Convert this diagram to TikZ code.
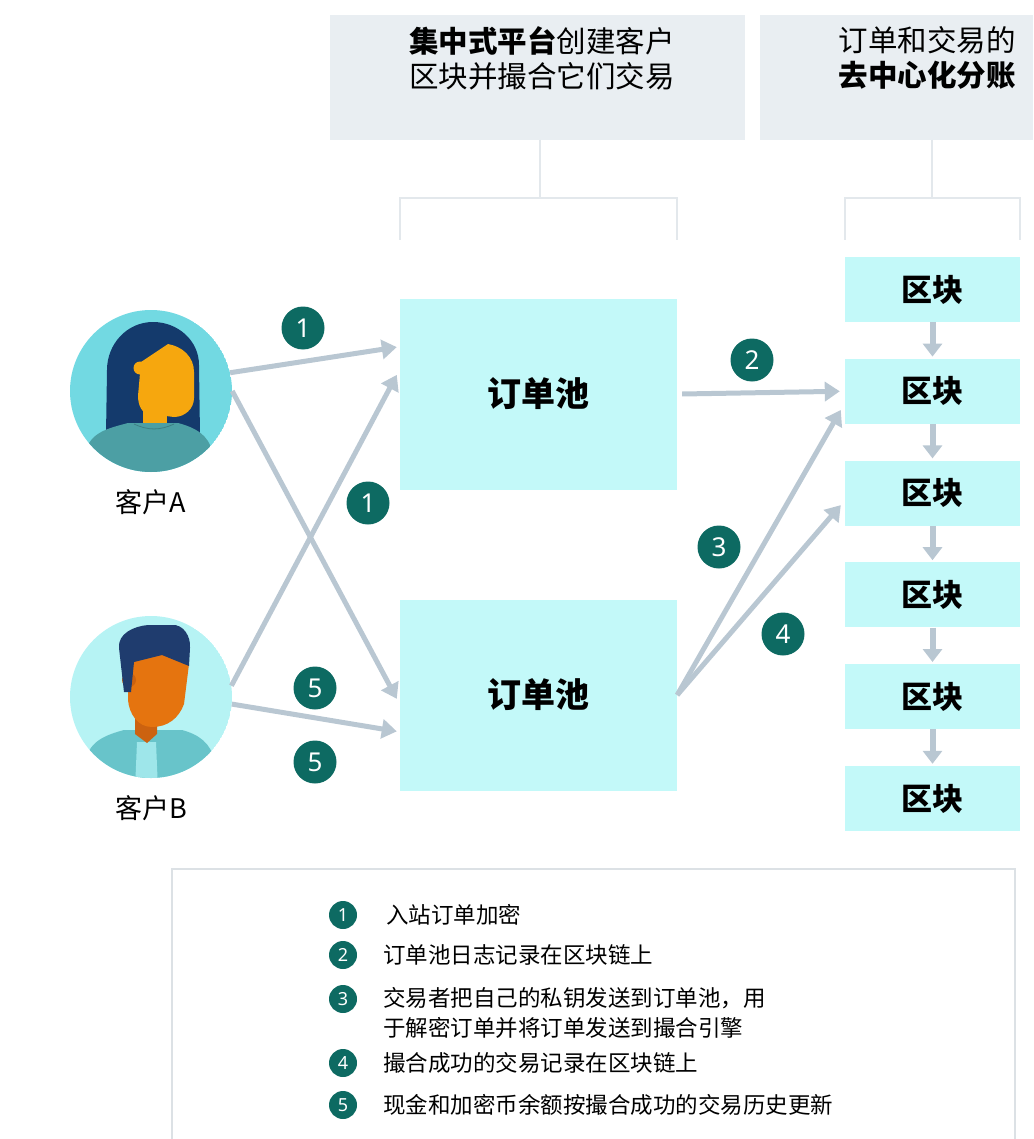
\documentclass[tikz,border=0pt]{standalone}
\usepackage{fontspec}
\setmainfont{Noto Sans CJK SC}
\newfontfamily\numfont{Noto Sans}
\usetikzlibrary{arrows.meta}
\usetikzlibrary{positioning}
\usetikzlibrary{calc}

\definecolor{hdrfill}{HTML}{E9EEF2}
\definecolor{bracketgray}{HTML}{E3E8EC}
\definecolor{poolcyan}{HTML}{C3F9F9}
\definecolor{flowgray}{HTML}{B9C7D2}
\definecolor{stepteal}{HTML}{0D6A62}
\definecolor{legendgray}{HTML}{DCE1E5}
% avatar colours
\definecolor{skyA}{HTML}{72D9E2}
\definecolor{hairA}{HTML}{143A6C}
\definecolor{faceA}{HTML}{F6A70E}
\definecolor{bodyA}{HTML}{4C9FA4}
\definecolor{skyB}{HTML}{B6F3F4}
\definecolor{hairB}{HTML}{1F3C6E}
\definecolor{faceB}{HTML}{E5740F}
\definecolor{neckB}{HTML}{CC6210}
\definecolor{shirtB}{HTML}{68C4CA}
\definecolor{stripB}{HTML}{9EE6EA}

\begin{document}
\begin{tikzpicture}[
    x=1pt, y=1pt,
    hdr/.style={fill=hdrfill, minimum height=125pt, inner sep=0pt},
    bracket/.style={draw=bracketgray, line width=2.5pt},
    pool/.style={fill=poolcyan, minimum width=277pt, minimum height=191pt, inner sep=0pt,
      font=\bfseries\fontsize{34}{34}\selectfont},
    blk/.style={fill=poolcyan, minimum width=175pt, minimum height=65pt, inner sep=0pt,
      font=\bfseries\fontsize{31}{31}\selectfont},
    flow/.style={draw=flowgray, line width=5pt, -{Triangle[length=15pt,width=19pt]}},
    chain/.style={draw=flowgray, line width=6pt, -{Triangle[length=13pt,width=19pt]}},
    stepnum/.style={circle, fill=stepteal, text=white, minimum size=43pt, inner sep=0pt,
      font=\numfont\bfseries\fontsize{26}{26}\selectfont},
    keynum/.style={circle, fill=stepteal, text=white, minimum size=28pt, inner sep=0pt,
      font=\numfont\bfseries\fontsize{18}{18}\selectfont},
    keytext/.style={anchor=west, inner sep=0pt, align=left, font=\fontsize{22.5}{30}\selectfont},
    who/.style={font=\fontsize{27}{27}\selectfont}
  ]
\useasboundingbox (0,0) rectangle (1033,-1139);

% headers and brackets
\node[hdr, minimum width=415pt] (hdrL) at (537.5,-77.5) {};
\node[hdr, minimum width=273pt, anchor=west] (hdrR) at (760,-77.5) {};
\node[align=center, font=\fontsize{29.5}{35}\selectfont] (hdrLtxt) at (542,-58)
  {\textbf{集中式平台}创建客户\\区块并撮合它们交易};
\node[align=center, font=\fontsize{29.5}{35}\selectfont] (hdrRtxt) at (927,-58)
  {订单和交易的\\\textbf{去中心化分账}};

\coordinate (bL) at (540,-198); \coordinate (bR) at (932,-198);
\draw[bracket] (540,-140) -- (bL);
\draw[bracket] (400,-240) -- (400,-198) -- (677,-198) -- (677,-240);
\draw[bracket] (932,-140) -- (bR);
\draw[bracket] (845,-240) -- (845,-198) -- (1020,-198) -- (1020,-240);

% order pools and the chain of blocks
\node[pool] (poolTop) at (538.5,-394) {订单池};
\node[pool] (poolBot) at (538.5,-695) {订单池};
\foreach \i in {1,...,6}
  \node[blk] (blk\i) at (932.5,{-289.5-101.8*(\i-1)}) {区块};
\foreach \i [count=\j from 2] in {1,...,5}
  \draw[chain] (blk\i.south) -- ([yshift=2pt]blk\j.north);

% client A
\node[circle, minimum size=162pt, inner sep=0pt] (clientA) at (151,-391) {};
\begin{scope}
  \clip (clientA.center) circle (81);
  \fill[skyA] (clientA.center) circle (81);
  \fill[hairA] (106,-435) -- (107,-370) to[out=90,in=180] (153,-322) to[out=0,in=90] (199,-365) -- (200,-435) -- cycle;
  \fill[faceA] (141,-362) -- (168,-344) to[out=-10,in=90] (194,-372) -- (194,-398) to[out=-90,in=0] (174,-417) -- (150,-414) to[out=180,in=-90] (138,-396) -- cycle;
  \fill[faceA] (140,-368) circle (6.5);
  \fill[faceA] (143,-425) rectangle (167,-405);
  \fill[bodyA] (82,-480) -- (86,-452) to[out=80,in=195] (128,-423) -- (178,-423) to[out=-15,in=100] (212,-452) -- (216,-480) -- cycle;
  \draw[bodyA!80!black, line width=0.8pt] (134,-424) to[out=-25,in=205] (174,-424);
\end{scope}
\node[who, below=14pt of clientA] (nameA) {客户A};

% client B
\node[circle, minimum size=162pt, inner sep=0pt] (clientB) at (151,-697) {};
\begin{scope}
  \clip (clientB.center) circle (81);
  \fill[skyB] (clientB.center) circle (81);
  \fill[shirtB] (82,-790) -- (86,-760) to[out=80,in=195] (124,-730) -- (182,-730) to[out=-15,in=100] (214,-760) -- (218,-790) -- cycle;
  \fill[stripB] (137,-742) -- (156,-742) -- (158,-790) -- (135,-790) -- cycle;
  \fill[neckB] (135,-712) -- (157,-712) -- (157,-734) -- (147,-743) -- (135,-734) -- cycle;
  \fill[faceB] (128,-664) -- (128,-700) to[out=-85,in=180] (152,-727) to[out=0,in=-110] (184,-704) -- (189,-664) to[out=90,in=0] (160,-650) -- cycle;
  \fill[neckB] (129,-680) circle (7);
  \fill[hairB] (124,-692) -- (119,-648) to[out=95,in=185] (148,-625) -- (172,-625) to[out=5,in=85] (190,-648) -- (189,-666) -- (162,-655) -- (134,-662) -- (131,-692) -- cycle;
\end{scope}
\node[who, below=14pt of clientB] (nameB) {客户B};

% order flow
\draw[flow] (clientA.13) -- ($(poolTop.north west)!0.255!(poolTop.south west)+(-3,0)$);
\draw[flow] (clientA.0) -- ($(poolBot.north west)!0.52!(poolBot.south west)+(-3,0)$);
\draw[flow] (clientB.8) -- ($(poolTop.north west)!0.40!(poolTop.south west)+(-3,0)$);
\draw[flow] (clientB.-5) -- ($(poolBot.north west)!0.69!(poolBot.south west)+(-3,0)$);
\draw[flow] ([xshift=5pt]poolTop.east) -- ([xshift=-5pt]blk2.west);
\draw[flow] (poolBot.east) -- ($(blk2.south west)+(-4,14)$);
\draw[flow] (poolBot.east) -- ($(blk3.west)+(-4,-12)$);

% step markers
\node[stepnum] (s1a) at (303,-328) {1};
\node[stepnum] (s1b) at (368,-503) {1};
\node[stepnum] (s2) at (752,-360) {2};
\node[stepnum] (s3) at (719,-547) {3};
\node[stepnum] (s4) at (783,-634) {4};
\node[stepnum] (s5a) at (315,-688) {5};
\node[stepnum] (s5b) at (315,-762) {5};

% key
\draw[legendgray, line width=2pt] (172,-1160) -- (172,-869) -- (1015,-869) -- (1015,-1160);
\node[keynum] (k1) at (343,-915) {1};
\node[keynum] (k2) at (343,-955) {2};
\node[keynum] (k3) at (343,-999) {3};
\node[keynum] (k4) at (343,-1063) {4};
\node[keynum] (k5) at (343,-1105) {5};
\node[keytext] (t1) at (386,-915) {入站订单加密};
\node[keytext] (t2) at (383,-955) {订单池日志记录在区块链上};
\node[keytext] (t3) at (383,-1013) {交易者把自己的私钥发送到订单池，用\\于解密订单并将订单发送到撮合引擎};
\node[keytext] (t4) at (383,-1063) {撮合成功的交易记录在区块链上};
\node[keytext] (t5) at (383,-1105) {现金和加密币余额按撮合成功的交易历史更新};
\end{tikzpicture}
\end{document}
